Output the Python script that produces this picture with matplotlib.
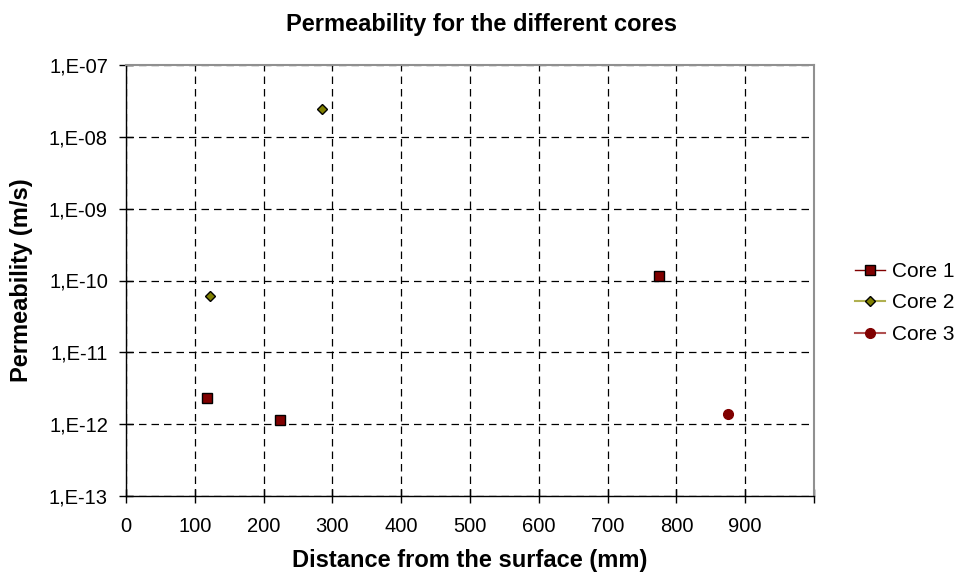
import numpy as np
import matplotlib
matplotlib.use("Agg")
import matplotlib.pyplot as plt
from matplotlib.ticker import FuncFormatter, NullLocator, FixedLocator
from matplotlib.lines import Line2D

plt.rcParams['font.family'] = ['Liberation Sans', 'DejaVu Sans']

# data
core1_x = [118, 224, 775]
core1_y = [2.3e-12, 1.15e-12, 1.15e-10]
core2_x = [122, 285]
core2_y = [6.0e-11, 2.45e-8]
core3_x = [875]
core3_y = [1.4e-12]

x_ticks = [0, 100, 200, 300, 400, 500, 600, 700, 800, 900, 1000]
x_labels = ["0", "100", "200", "300", "400", "500", "600", "700", "800", "900", ""]
y_ticks = [1e-13, 1e-12, 1e-11, 1e-10, 1e-9, 1e-8, 1e-7]

W, H = 957, 579
fig = plt.figure(figsize=(W / 100, H / 100), dpi=100)
ax = fig.add_axes([126 / W, 1 - 496 / H, (814 - 126) / W, (496 - 65) / H])

ax.plot(core1_x, core1_y, linestyle='none', marker='s', markersize=7,
        markerfacecolor='#800000', markeredgecolor='black', markeredgewidth=1,
        label='Core 1')
ax.plot(core2_x, core2_y, linestyle='none', marker='D', markersize=5.5,
        markerfacecolor='#808000', markeredgecolor='black', markeredgewidth=1,
        label='Core 2')
ax.plot(core3_x, core3_y, linestyle='none', marker='o', markersize=7,
        markerfacecolor='#800000', markeredgecolor='#800000',
        label='Core 3')

ax.set_yscale('log')
ax.set_ylim(1e-13, 1e-7)
ax.set_xlim(0, 1000)
ax.yaxis.set_major_locator(FixedLocator(y_ticks))
ax.yaxis.set_minor_locator(NullLocator())
ax.yaxis.set_major_formatter(FuncFormatter(lambda v, p: "1,E%03d" % int(round(np.log10(v)))))
ax.set_xticks(x_ticks)
ax.set_xticklabels(x_labels)

ax.grid(True, which='major', color='black', linestyle=(0, (6, 4)), linewidth=0.9)
ax.set_axisbelow(True)

for s in ['top', 'right']:
    ax.spines[s].set_color('#909090')
    ax.spines[s].set_linewidth(1.5)
for s in ['left', 'bottom']:
    ax.spines[s].set_color('black')
    ax.spines[s].set_linewidth(1)

ax.tick_params(axis='both', direction='inout', length=10, width=1, labelsize=14.5)
ax.tick_params(axis='y', pad=8)
ax.tick_params(axis='x', pad=10)

cx = (126 + 814) / 2 / W
fig.text(482 / W, 1 - 25 / H, "Permeability for the different cores",
         fontsize=17, fontweight='bold', ha='center', va='center')
fig.text(cx, 1 - 561 / H, "Distance from the surface (mm)",
         fontsize=17, fontweight='bold', ha='center', va='center')
fig.text(22 / W, 1 - 280 / H, "Permeability (m/s)", rotation=90,
         fontsize=17, fontweight='bold', ha='center', va='center')

# legend with line + marker like the original
handles = [
    Line2D([0], [0], color='#800000', lw=1, marker='s', markersize=7,
           markerfacecolor='#800000', markeredgecolor='black'),
    Line2D([0], [0], color='#b0b050', lw=1.5, marker='D', markersize=5.5,
           markerfacecolor='#808000', markeredgecolor='black'),
    Line2D([0], [0], color='#b05050', lw=1.5, marker='o', markersize=7,
           markerfacecolor='#800000', markeredgecolor='#800000'),
]
fig.legend(handles, ['Core 1', 'Core 2', 'Core 3'], loc='center left',
           bbox_to_anchor=(0.885, 1 - 303 / H), frameon=False, fontsize=15,
           handlelength=1.45, handletextpad=0.3, labelspacing=0.6,
           borderaxespad=0)

fig.savefig("out.png", dpi=100)
